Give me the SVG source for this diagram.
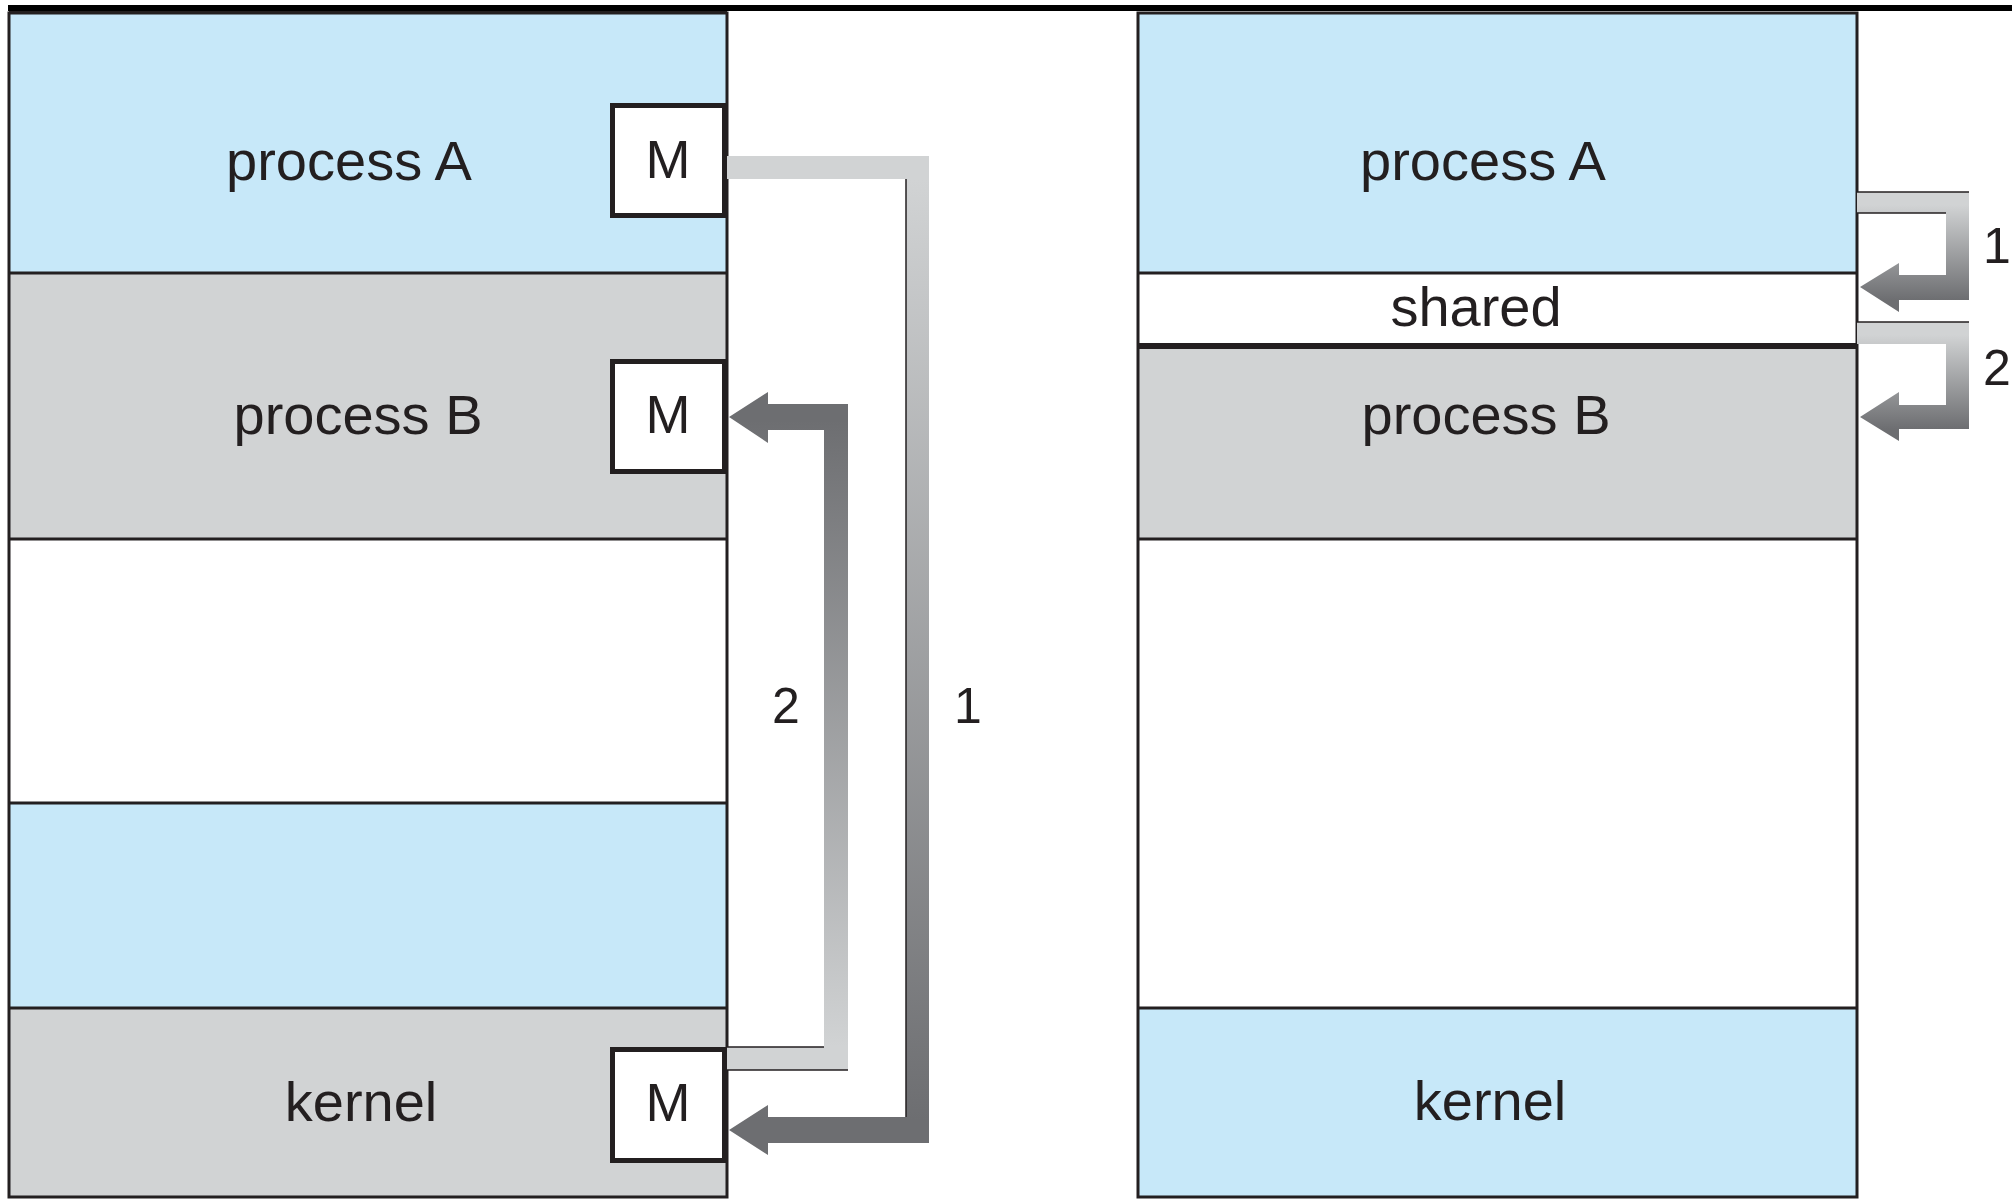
<svg xmlns="http://www.w3.org/2000/svg" width="2012" height="1199" viewBox="0 0 2012 1199">
<style>
.blue{fill:#c7e8f9}
.gray{fill:#d1d3d4}
.white{fill:#ffffff}
.ln{stroke:#231f20;stroke-width:3;fill:none}
.thk{stroke:#231f20;stroke-width:6;fill:none}
.edge{stroke:#231f20;stroke-width:1.5;fill:none}
.mbox{fill:#ffffff;stroke:#231f20;stroke-width:5}
.lbl{font-family:'Liberation Sans',Arial,Helvetica,sans-serif;font-size:56px;fill:#231f20;text-anchor:middle}
.m{font-family:'Liberation Sans',Arial,Helvetica,sans-serif;font-size:54px;fill:#231f20;text-anchor:middle}
.num{font-family:'Liberation Sans',Arial,Helvetica,sans-serif;font-size:50px;fill:#231f20}
</style>
<defs>
<linearGradient id="g1" gradientUnits="userSpaceOnUse" x1="0" y1="180" x2="0" y2="1120">
<stop offset="0" stop-color="#d1d3d4"/><stop offset="1" stop-color="#6d6e71"/>
</linearGradient>
<linearGradient id="g2" gradientUnits="userSpaceOnUse" x1="0" y1="1047" x2="0" y2="420">
<stop offset="0" stop-color="#d1d3d4"/><stop offset="1" stop-color="#6d6e71"/>
</linearGradient>
<linearGradient id="g3" gradientUnits="userSpaceOnUse" x1="0" y1="205" x2="0" y2="300">
<stop offset="0" stop-color="#d1d3d4"/><stop offset="1" stop-color="#6d6e71"/>
</linearGradient>
<linearGradient id="g4" gradientUnits="userSpaceOnUse" x1="0" y1="335" x2="0" y2="429">
<stop offset="0" stop-color="#d1d3d4"/><stop offset="1" stop-color="#6d6e71"/>
</linearGradient>
</defs>
<rect x="0" y="0" width="2012" height="1199" fill="#ffffff"/>
<rect x="8" y="5" width="2004" height="6" fill="#000000"/>

<g id="left-memory">
<g id="left-process-a"><rect class="blue" x="9" y="13" width="718" height="260"/><text class="lbl" x="349" y="180">process A</text></g>
<g id="left-process-b"><rect class="gray" x="9" y="273" width="718" height="266"/><text class="lbl" x="358" y="434">process B</text></g>
<g id="left-free"><rect class="white" x="9" y="539" width="718" height="264"/></g>
<g id="left-blue"><rect class="blue" x="9" y="803" width="718" height="205"/></g>
<g id="left-kernel"><rect class="gray" x="9" y="1008" width="718" height="189"/><text class="lbl" x="361" y="1121">kernel</text></g>
<path class="ln" d="M9 13V1197H727V13Z M9 273H727 M9 539H727 M9 803H727 M9 1008H727"/>
<path class="ln" d="M9 12.5H727" stroke-width="4"/>
<g id="m-a"><rect class="mbox" x="612.5" y="105.5" width="112" height="110"/><text class="m" x="668" y="178">M</text></g>
<g id="m-b"><rect class="mbox" x="612.5" y="361.5" width="112" height="110"/><text class="m" x="668" y="433">M</text></g>
<g id="m-kernel"><rect class="mbox" x="612.5" y="1049.5" width="112" height="111"/><text class="m" x="668" y="1121">M</text></g>
</g>

<g id="right-memory">
<g id="right-process-a"><rect class="blue" x="1138" y="13" width="719" height="260"/><text class="lbl" x="1483" y="180">process A</text></g>
<g id="right-shared"><rect class="white" x="1138" y="273" width="719" height="73"/><text class="lbl" x="1476" y="326">shared</text></g>
<g id="right-process-b"><rect class="gray" x="1138" y="346" width="719" height="193"/><text class="lbl" x="1486" y="434">process B</text></g>
<g id="right-free"><rect class="white" x="1138" y="539" width="719" height="469"/></g>
<g id="right-kernel"><rect class="blue" x="1138" y="1008" width="719" height="189"/><text class="lbl" x="1490" y="1120">kernel</text></g>
<path class="ln" d="M1138 13V1197H1857V13Z M1138 273H1857 M1138 539H1857 M1138 1008H1857"/>
<path class="thk" d="M1138 346H1857"/>
</g>

<g id="connectors">
<path fill="url(#g1)" d="M727 156H929V1143H768V1155L729 1130L768 1105V1117H906V179H727Z"/>
<path class="edge" d="M906 179V1117"/>
<path fill="url(#g2)" d="M727 1047H824V430H768V443L729 417L768 392V404H848V1070H727Z"/>
<path class="edge" d="M727 1047H824 M727 1070H848"/>
<path fill="url(#g3)" d="M1857 192H1969V300H1899V312L1860 287L1899 263V275H1946V213H1857Z"/>
<path class="edge" d="M1857 192H1969" stroke-width="2.5"/>
<path class="edge" d="M1857 213H1946"/>
<path fill="url(#g4)" d="M1857 322H1969V429H1899V441L1860 417L1899 392V405H1946V344H1857Z"/>
<path class="edge" d="M1857 322H1969" stroke-width="2"/>
<text class="num" x="772" y="723">2</text>
<text class="num" x="954" y="723">1</text>
<text class="num" x="1983" y="263">1</text>
<text class="num" x="1983" y="385">2</text>
</g>
</svg>
